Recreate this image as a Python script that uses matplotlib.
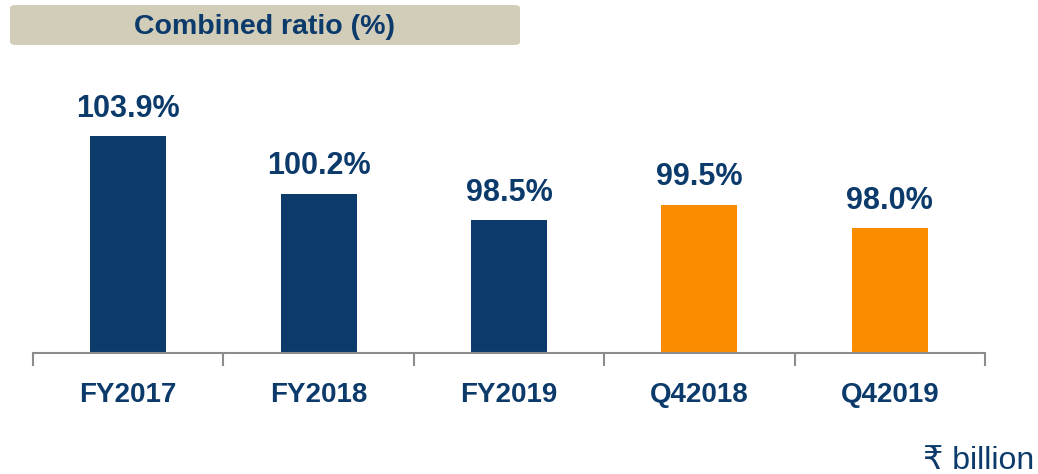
import matplotlib.pyplot as plt
from matplotlib.patches import FancyBboxPatch

categories = ["FY2017", "FY2018", "FY2019", "Q42018", "Q42019"]
ratios = [103.9, 100.2, 98.5, 99.5, 98.0]
bar_colors = ["#0b3a6b", "#0b3a6b", "#0b3a6b", "#fb8c00", "#fb8c00"]
labels = ["103.9%", "100.2%", "98.5%", "99.5%", "98.0%"]

NAVY = "#0b3a6b"
plt.rcParams['font.family'] = ['Liberation Sans', 'DejaVu Sans']

W, H = 1038, 474
fig = plt.figure(figsize=(W / 100, H / 100), dpi=100)

# axes placed in pixel terms: baseline at y=353, from x=33 to x=985
left, right, bottom, top = 33, 985, 353, 60
ax = fig.add_axes([left / W, (H - bottom) / H, (right - left) / W, (bottom - top) / H])

x = list(range(len(categories)))
ax.bar(x, [r - 90 for r in ratios], bottom=90, width=0.4, color=bar_colors)
ax.set_ylim(90, 90 + (bottom - top) / 15.6)
ax.set_xlim(-0.5, len(categories) - 0.5)

for xi, r, lab in zip(x, ratios, labels):
    ax.annotate(lab, (xi, r), xytext=(0, 14), textcoords="offset points",
                ha="center", va="baseline", fontsize=22, fontweight="bold",
                color=NAVY)

for s in ["left", "right", "top"]:
    ax.spines[s].set_visible(False)
ax.spines["bottom"].set_color("#8c8c8c")
ax.spines["bottom"].set_linewidth(1.5)
ax.set_yticks([])

# boundary ticks (major) and category labels (minor)
ax.set_xticks([i - 0.5 for i in range(len(categories) + 1)])
ax.set_xticklabels([])
ax.tick_params(axis="x", which="major", length=9, width=1.5, color="#8c8c8c", direction="out")
ax.set_xticks(x, minor=True)
ax.set_xticklabels(categories, minor=True, fontsize=20, fontweight="bold", color=NAVY)
ax.tick_params(axis="x", which="minor", length=0, pad=21)

# title box
box = FancyBboxPatch((10 / W, (H - 45) / H), 510 / W, 40 / H,
                     boxstyle="round,pad=0,rounding_size=0.006",
                     transform=fig.transFigure, facecolor="#d1cdb9", edgecolor="none")
fig.patches.append(box)
fig.text(265 / W, (H - 27) / H, "Combined ratio (%)", ha="center", va="center",
         fontsize=20.5, fontweight="bold", color=NAVY)

fig.text(1034 / W, 5 / H, "₹ billion", ha="right", va="baseline",
         fontsize=23, color=NAVY)

fig.savefig("out.png", dpi=100)
